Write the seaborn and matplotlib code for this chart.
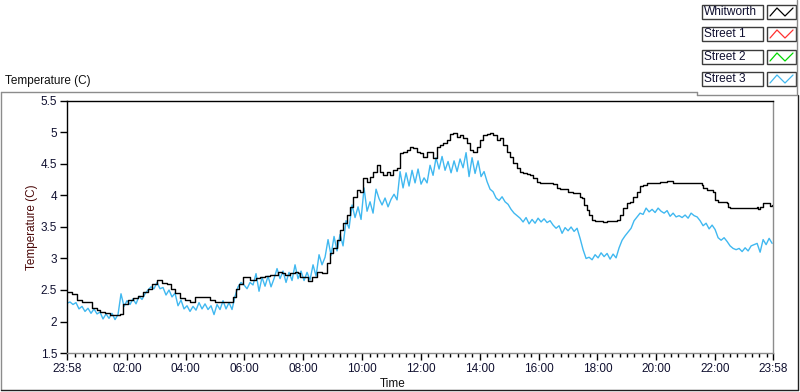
import numpy as np
import pandas as pd
import seaborn as sns
import matplotlib
matplotlib.use("Agg")
import matplotlib.pyplot as plt
from matplotlib.lines import Line2D
from matplotlib.patches import Rectangle

# ---------------- data ----------------
series_names = ["Whitworth", "Street 1", "Street 2", "Street 3"]
series_colors = ["#000000", "#ff3030", "#00d800", "#40b8f0"]

# Whitworth: hours since 23:58, temperature (C)
whit_time = [0, 0.17, 0.34, 0.51, 0.71, 0.85, 1.02, 1.12, 1.29, 1.46, 1.63, 1.80, 1.90, 2.07, 2.24,
             2.41, 2.58, 2.75, 2.89, 3.06, 3.23, 3.40, 3.53, 3.67, 3.84, 4.01, 4.18, 4.35, 4.52, 4.69,
             4.86, 5.03, 5.20, 5.37, 5.54, 5.64, 5.74, 5.85, 5.98, 6.12, 6.22, 6.32, 6.42, 6.56, 6.73,
             6.90, 7.07, 7.17, 7.31, 7.41, 7.58, 7.75, 7.85, 7.92, 8.09, 8.19, 8.33, 8.50, 8.67, 8.84,
             8.94, 9.04, 9.18, 9.28, 9.38, 9.52, 9.62, 9.72, 9.86, 9.96, 10.06, 10.20, 10.30, 10.40,
             10.54, 10.64, 10.74, 10.88, 10.98, 11.08, 11.22, 11.32, 11.42, 11.56, 11.66, 11.76, 11.90,
             12.00, 12.10, 12.24, 12.34, 12.44, 12.58, 12.68, 12.78, 12.92, 13.02, 13.12, 13.26, 13.36,
             13.46, 13.60, 13.70, 13.80, 13.94, 14.04, 14.14, 14.28, 14.38, 14.48, 14.62, 14.72, 14.82,
             14.96, 15.06, 15.16, 15.30, 15.40, 15.50, 15.64, 15.74, 15.84, 15.98, 16.08, 16.25, 16.42,
             16.52, 16.66, 16.76, 16.93, 17.03, 17.20, 17.37, 17.44, 17.50, 17.57, 17.67, 17.74, 17.84,
             17.95, 18.12, 18.22, 18.35, 18.56, 18.69, 18.80, 18.90, 19.03, 19.14, 19.24, 19.37, 19.48,
             19.58, 19.72, 19.92, 20.16, 20.39, 20.60, 20.84, 21.18, 21.52, 21.58, 21.62, 21.75, 21.92,
             21.96, 22.03, 22.13, 22.37, 22.43, 22.47, 22.54, 22.88, 23.22, 23.39, 23.45, 23.49, 23.55,
             23.66, 23.83, 23.90, 23.96]
whit_temp = [2.47, 2.44, 2.34, 2.31, 2.31, 2.21, 2.18, 2.15, 2.13, 2.10, 2.10, 2.12, 2.28, 2.34, 2.37,
             2.40, 2.47, 2.52, 2.60, 2.66, 2.61, 2.60, 2.52, 2.45, 2.37, 2.34, 2.31, 2.39, 2.39, 2.39,
             2.34, 2.31, 2.31, 2.31, 2.31, 2.39, 2.52, 2.60, 2.71, 2.71, 2.66, 2.66, 2.69, 2.71, 2.72,
             2.74, 2.74, 2.79, 2.77, 2.74, 2.77, 2.79, 2.77, 2.71, 2.71, 2.64, 2.71, 2.79, 2.77, 2.93,
             3.09, 3.17, 3.29, 3.45, 3.56, 3.69, 3.82, 3.98, 4.09, 4.06, 4.28, 4.21, 4.29, 4.37,
             4.48, 4.37, 4.33, 4.37, 4.33, 4.40, 4.44, 4.67, 4.69, 4.72, 4.77, 4.75, 4.69,
             4.67, 4.61, 4.69, 4.69, 4.60, 4.77, 4.80, 4.83, 4.88, 4.98, 4.99, 4.93, 4.96,
             4.91, 4.83, 4.72, 4.69, 4.77, 4.88, 4.96, 4.98, 4.99, 4.96, 4.88, 4.91, 4.80,
             4.69, 4.61, 4.52, 4.44, 4.37, 4.36, 4.34, 4.33, 4.28, 4.21, 4.20, 4.20, 4.20,
             4.18, 4.12, 4.10, 4.10, 4.06, 4.04, 4.04, 3.98, 3.96, 3.85, 3.77, 3.69, 3.61,
             3.60, 3.60, 3.58, 3.60, 3.60, 3.61, 3.69, 3.80, 3.88, 3.90, 3.98, 4.06, 4.15,
             4.17, 4.20, 4.20, 4.21, 4.23, 4.20, 4.20, 4.20, 4.20, 4.17, 4.12, 4.09, 4.09,
             4.06, 3.93, 3.90, 3.90, 3.88, 3.82, 3.80, 3.80, 3.80, 3.80, 3.82, 3.79, 3.82,
             3.88, 3.88, 3.83, 3.85]

# Street 3: evenly sampled over the day
street3_temp = [2.29, 2.31, 2.27, 2.30, 2.20, 2.24, 2.16, 2.21, 2.13, 2.20,
                2.12, 2.15, 2.04, 2.12, 2.05, 2.13, 2.03, 2.11, 2.44, 2.24,
                2.33, 2.27, 2.36, 2.28, 2.40, 2.35, 2.44, 2.50, 2.55, 2.52,
                2.62, 2.52, 2.54, 2.42, 2.50, 2.39, 2.45, 2.25, 2.34, 2.20,
                2.25, 2.16, 2.24, 2.18, 2.30, 2.20, 2.28, 2.19, 2.25, 2.11,
                2.27, 2.19, 2.33, 2.20, 2.30, 2.19, 2.40, 2.55, 2.62, 2.58,
                2.52, 2.62, 2.58, 2.76, 2.48, 2.70, 2.56, 2.72, 2.55, 2.68,
                2.84, 2.68, 2.80, 2.62, 2.78, 2.65, 2.90, 2.68, 2.80, 2.65,
                2.78, 2.66, 2.90, 2.72, 3.06, 2.90, 3.02, 3.30, 3.05, 3.35,
                3.12, 3.38, 3.20, 3.60, 3.48, 3.85, 3.65, 3.82, 3.62, 4.12,
                3.75, 3.90, 3.72, 4.10, 3.95, 3.85, 3.96, 3.82, 3.94, 4.02,
                3.93, 4.38, 4.12, 4.36, 4.15, 4.40, 4.20, 4.42, 4.18, 4.28,
                4.20, 4.48, 4.32, 4.60, 4.42, 4.62, 4.40, 4.54, 4.36, 4.55,
                4.38, 4.58, 4.44, 4.68, 4.30, 4.60, 4.35, 4.55, 4.30, 4.38,
                4.22, 4.10, 4.06, 3.96, 3.92, 3.98, 3.90, 3.86, 3.78, 3.72,
                3.68, 3.64, 3.58, 3.65, 3.55, 3.62, 3.56, 3.64, 3.58, 3.63,
                3.57, 3.60, 3.53, 3.48, 3.52, 3.40, 3.49, 3.44, 3.50, 3.43,
                3.48, 3.32, 3.14, 3.00, 3.02, 2.98, 3.06, 3.01, 3.09, 3.03,
                3.08, 2.99, 3.07, 3.01, 3.17, 3.29, 3.36, 3.42, 3.48, 3.60,
                3.66, 3.72, 3.70, 3.80, 3.74, 3.78, 3.73, 3.80, 3.75, 3.72,
                3.76, 3.67, 3.72, 3.66, 3.68, 3.65, 3.69, 3.64, 3.72, 3.68,
                3.66, 3.60, 3.52, 3.56, 3.47, 3.53, 3.46, 3.33, 3.29, 3.33,
                3.27, 3.20, 3.16, 3.14, 3.16, 3.11, 3.17, 3.12, 3.20, 3.22,
                3.24, 3.10, 3.30, 3.22, 3.32, 3.24]
street3_time = np.linspace(0, 23.97, len(street3_temp))

x_tick_labels = ["23:58", "02:00", "04:00", "06:00", "08:00", "10:00", "12:00",
                 "14:00", "16:00", "18:00", "20:00", "22:00", "23:58"]
y_ticks = [1.5, 2, 2.5, 3, 3.5, 4, 4.5, 5, 5.5]

# ---------------- figure ----------------
sns.set_style("white")
plt.rcParams["font.family"] = ["Liberation Sans", "DejaVu Sans"]
plt.rcParams["font.size"] = 8

W, H = 800, 392
fig = plt.figure(figsize=(8, 3.92), dpi=100)
fig.patch.set_facecolor("white")

def fx(x):
    return x / W

def fy(y):
    return 1 - y / H

ax = fig.add_axes([fx(67), fy(353), (773 - 67) / W, (353 - 101) / H])

df_w = pd.DataFrame({"time": whit_time, "temp": whit_temp})
df_s = pd.DataFrame({"time": street3_time, "temp": street3_temp})
sns.lineplot(data=df_s, x="time", y="temp", ax=ax, color=series_colors[3], lw=1.0,
             estimator=None, sort=False)
sns.lineplot(data=df_w, x="time", y="temp", ax=ax, color=series_colors[0], lw=1.0,
             estimator=None, sort=False, drawstyle="steps-post")

ax.set_xlim(0, 24)
ax.set_ylim(1.5, 5.5)
ax.set_xlabel("")
ax.set_ylabel("")

major = [0] + [2 * k + 2 / 60 for k in range(1, 12)] + [24]
ax.set_xticks(major)
ax.set_xticklabels(x_tick_labels)
minor = [2 / 60 + 0.25 * k for k in range(1, 96) if k % 8 != 0]
ax.set_xticks(minor, minor=True)
ax.set_yticks(y_ticks)
ax.set_yticklabels([f"{v:g}" for v in y_ticks])

tick_col = "#101030"
ax.tick_params(axis="both", which="major", direction="out", length=5, width=1,
               color="black", labelcolor=tick_col, labelsize=8.5, pad=2)
ax.tick_params(axis="x", which="minor", direction="out", length=3, width=1, color="black")
ax.tick_params(axis="x", which="both", bottom=True)
ax.tick_params(axis="y", which="both", left=True)

for side in ["left", "top"]:
    ax.spines[side].set_color("black")
    ax.spines[side].set_linewidth(1)
for side in ["right", "bottom"]:
    ax.spines[side].set_color("#8c8c8c")
    ax.spines[side].set_linewidth(1)

# axis labels and title
fig.text(fx(393), fy(384), "Time", ha="center", va="center", fontsize=8.5, color="#101010")
fig.text(fx(32), fy(227), "Temperature (C)", ha="center", va="center", rotation=90,
         fontsize=8.5, color="#4a0808")
fig.text(fx(5), fy(81), "Temperature (C)", ha="left", va="center", fontsize=8.5, color="#101010")

# outer frame
def fline(x0, y0, x1, y1, color, lw=1.0):
    fig.add_artist(Line2D([fx(x0), fx(x1)], [fy(y0), fy(y1)], color=color, lw=lw,
                          transform=fig.transFigure))

fline(1, 92, 697, 92, "#8c8c8c")
fline(1, 92, 1, 390, "#8c8c8c")
fline(1, 390, 798, 390, "#202020")
fline(798, 95, 798, 390, "#202020")
fline(697, 92, 697, 95, "#8c8c8c")
fline(697, 95, 797, 95, "#8c8c8c")
fline(797, 0, 797, 95, "#8c8c8c")

# legend
tops = [5, 27, 50, 72]
for name, col, top in zip(series_names, series_colors, tops):
    fig.add_artist(Rectangle((fx(702), fy(top + 14)), (763 - 702) / W, 14 / H,
                             transform=fig.transFigure, facecolor="white",
                             edgecolor="#3c3c3c", lw=1))
    fig.text(fx(704), fy(top + 7), name, ha="left", va="center", fontsize=8.6, color="#101030")
    fig.add_artist(Rectangle((fx(767), fy(top + 14)), (796 - 767) / W, 14 / H,
                             transform=fig.transFigure, facecolor="white",
                             edgecolor="#3c3c3c", lw=1))
    xs = [770, 777, 785, 793]
    ys = [top + 11, top + 3, top + 11, top + 3]
    fig.add_artist(Line2D([fx(v) for v in xs], [fy(v) for v in ys], color=col, lw=0.9,
                          transform=fig.transFigure))

fig.savefig("out.png", dpi=100, facecolor="white")
